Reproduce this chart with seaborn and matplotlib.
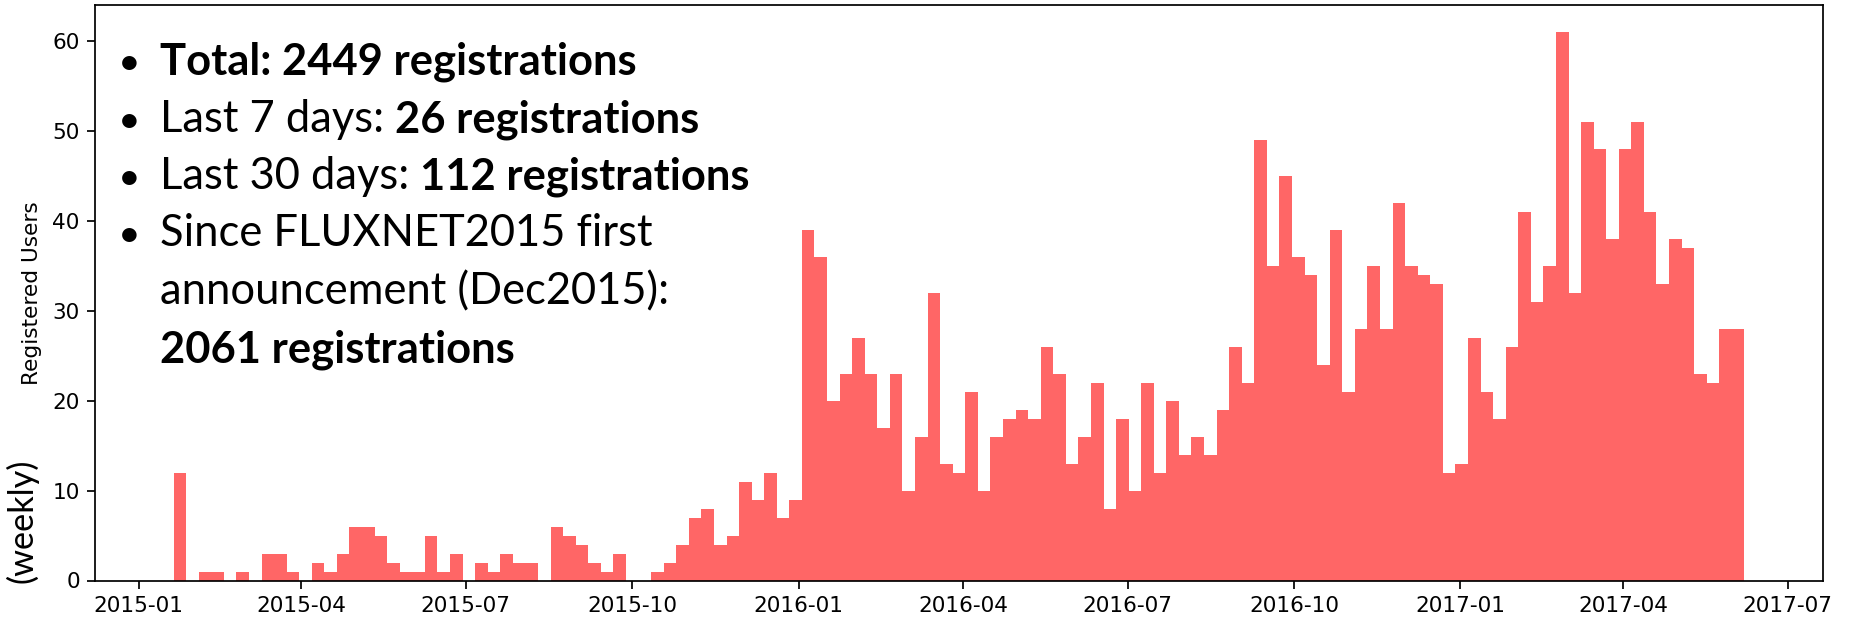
import numpy as np
import pandas as pd
import matplotlib
matplotlib.use("Agg")
import matplotlib.pyplot as plt
import matplotlib.dates as mdates
import seaborn as sns

# ---- data (weekly registrations) ----
first_edge = "2015-01-20 08:00"
last_edge = "2017-06-07 04:00"
weekly_counts = [
    12, 0, 1, 1, 0, 1, 0, 3, 3, 1, 0, 2, 1, 3, 6, 6, 5, 2, 1, 1, 5,
    1, 3, 0, 2, 1, 3, 2, 2, 0, 6, 5, 4, 2, 1, 3, 0, 0, 1, 2, 4, 7,
    8, 4, 5, 11, 9, 12, 7, 9, 39, 36, 20, 23, 27, 23, 17, 23, 10, 16, 32, 13, 12,
    21, 10, 16, 18, 19, 18, 26, 23, 13, 16, 22, 8, 18, 10, 22, 12, 20, 14, 16, 14, 19,
    26, 22, 49, 35, 45, 36, 34, 24, 39, 21, 28, 35, 28, 42, 35, 34, 33, 12, 13, 27,
    21, 18, 26, 41, 31, 35, 61, 32, 51, 48, 38, 48, 51, 41, 33, 38, 37, 23, 22, 28, 28,
]
y_ticks = [0, 10, 20, 30, 40, 50, 60]
tick_months = [1, 4, 7, 10]
y_label = "Registered Users"
side_label = "(weekly)"
bullet_lines = [
    [("Total: 2449 registrations", "bold")],
    [("Last 7 days: ", "normal"), ("26 registrations", "bold")],
    [("Last 30 days: ", "normal"), ("112 registrations", "bold")],
    [("Since FLUXNET2015 first", "normal")],
    [("announcement (Dec2015):", "normal")],
    [("2061 registrations", "bold")],
]
has_bullet = [True, True, True, True, False, False]

# ---- build table ----
edges = np.linspace(mdates.date2num(pd.Timestamp(first_edge)),
                    mdates.date2num(pd.Timestamp(last_edge)),
                    len(weekly_counts) + 1)
df = pd.DataFrame({"week": (edges[:-1] + edges[1:]) / 2, "count": weekly_counts})

sns.set_style("ticks")
plt.rcParams["font.family"] = ["DejaVu Sans"]
plt.rcParams["axes.edgecolor"] = "black"
plt.rcParams["xtick.color"] = "black"
plt.rcParams["ytick.color"] = "black"
plt.rcParams["text.color"] = "black"
plt.rcParams["axes.labelcolor"] = "black"
plt.rcParams["axes.linewidth"] = 0.8

DPI = 156
fig = plt.figure(figsize=(1852 / DPI, 618 / DPI), dpi=DPI)
ax = fig.add_axes([95 / 1852, 1 - 580.5 / 618, (1823 - 95) / 1852, (580.5 - 5) / 618])

sns.histplot(data=df, x="week", weights="count", bins=list(edges), color="#ff6666",
             alpha=1, linewidth=0, ax=ax)

ax.xaxis.set_major_locator(mdates.MonthLocator(bymonth=tick_months))
ax.xaxis.set_major_formatter(mdates.DateFormatter("%Y-%m"))
ax.set_yticks(y_ticks)
ax.set_xlabel("")
ax.set_ylabel(y_label, fontsize=10, labelpad=5)
ax.tick_params(labelsize=10, length=3.5, width=0.8)
for s in ax.spines.values():
    s.set_visible(True)
    s.set_linewidth(0.8)

# ---- overlay text ----
FS = 20.1
FONT = "Lato"
baselines = [74, 132, 189, 246, 304, 362]
for i, parts in enumerate(bullet_lines):
    yb = 1 - baselines[i] / 618
    if has_bullet[i]:
        fig.text(129.5 / 1852, yb, "\u2022", fontsize=FS * 0.9, family=FONT,
                 ha="center", va="baseline")
    prev = None
    for txt, wt in parts:
        if prev is None:
            prev = fig.text(160 / 1852, yb, txt, fontsize=FS, family=FONT,
                            fontweight=wt, ha="left", va="baseline")
        else:
            prev = ax.annotate(txt, xycoords=prev, xy=(1, 0), fontsize=FS,
                               family=FONT, fontweight=wt, ha="left", va="bottom")

fig.text(22 / 1852, 1 - 521 / 618, side_label, fontsize=15.8, family=FONT,
         rotation=90, ha="center", va="center")

fig.savefig("out.png", dpi=DPI)
